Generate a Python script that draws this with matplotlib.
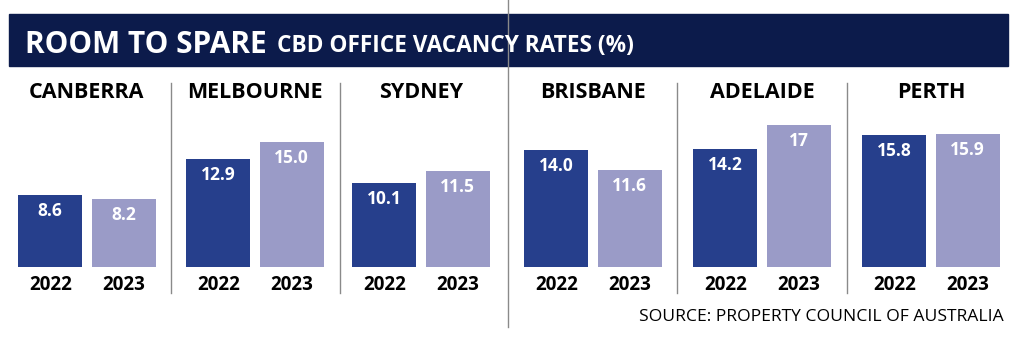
import matplotlib
matplotlib.use("Agg")
import matplotlib.pyplot as plt
from matplotlib.patches import Rectangle
from matplotlib.lines import Line2D

plt.rcParams['font.family'] = ['Open Sans', 'DejaVu Sans']

# data
cities = ['CANBERRA', 'MELBOURNE', 'SYDNEY', 'BRISBANE', 'ADELAIDE', 'PERTH']
years = ['2022', '2023']
rate_2022 = [8.6, 12.9, 10.1, 14.0, 14.2, 15.8]
rate_2023 = [8.2, 15.0, 11.5, 11.6, 17, 15.9]
labels_2022 = ['8.6', '12.9', '10.1', '14.0', '14.2', '15.8']
labels_2023 = ['8.2', '15.0', '11.5', '11.6', '17', '15.9']

W, H = 1024, 347
navy = '#0c1b4b'
dark = '#263f8c'
light = '#9a9bc7'
grey = '#8a8a8a'

fig = plt.figure(figsize=(W / 100, H / 100), dpi=100)
fig.patch.set_facecolor('white')


def fx(x):
    return x / W


def fy(y):
    return 1 - y / H


# header bar
fig.add_artist(Rectangle((fx(9), fy(66)), fx(999), 52 / H,
                         transform=fig.transFigure, color=navy, zorder=0))
fig.text(fx(25), fy(53), 'ROOM TO SPARE', color='white', fontsize=21.5,
         fontweight='bold', va='baseline', ha='left')
fig.text(fx(277), fy(52), 'CBD OFFICE VACANCY RATES (%)', color='white',
         fontsize=16.3, fontweight='bold', va='baseline', ha='left')

# panel layout (pixels)
panel_left = [18, 186, 352, 524, 693, 862]
panel_w = 138
base_y = 267
px_per_unit = 8.34
ymax = 20
w = 0.877

for i, city in enumerate(cities):
    ax = fig.add_axes([fx(panel_left[i]), fy(base_y), panel_w / W,
                       ymax * px_per_unit / H])
    ax.bar([0, 1], [rate_2022[i], rate_2023[i]], width=w,
           color=[dark, light], edgecolor='none')
    ax.set_xlim(-w / 2, 1 + w / 2)
    ax.set_ylim(0, ymax)
    ax.axis('off')
    for j, (v, lab) in enumerate([(rate_2022[i], labels_2022[i]),
                                  (rate_2023[i], labels_2023[i])]):
        ax.annotate(lab, (j, v), xytext=(0, -11.5), textcoords='offset points',
                    ha='center', va='center', color='white', fontsize=12.5,
                    fontweight='bold')
        ax.annotate(years[j], (j, 0), xytext=(0, -13), textcoords='offset points',
                    ha='center', va='center', color='black', fontsize=13.5,
                    fontweight='bold')
    cx = panel_left[i] + panel_w / 2
    fig.text(fx(cx), fy(92), city, ha='center', va='center',
             fontsize=15.5, fontweight='bold', color='black')

# dividers
for x in [171, 340, 677, 847]:
    fig.add_artist(Line2D([fx(x), fx(x)], [fy(83), fy(293)],
                          transform=fig.transFigure, color=grey, lw=1))
fig.add_artist(Line2D([fx(508), fx(508)], [fy(0), fy(327)],
                      transform=fig.transFigure, color=grey, lw=1))

fig.text(fx(1004), fy(317), 'SOURCE: PROPERTY COUNCIL OF AUSTRALIA',
         ha='right', va='center', fontsize=12.6, color='black')

fig.savefig('out.png', dpi=100)
